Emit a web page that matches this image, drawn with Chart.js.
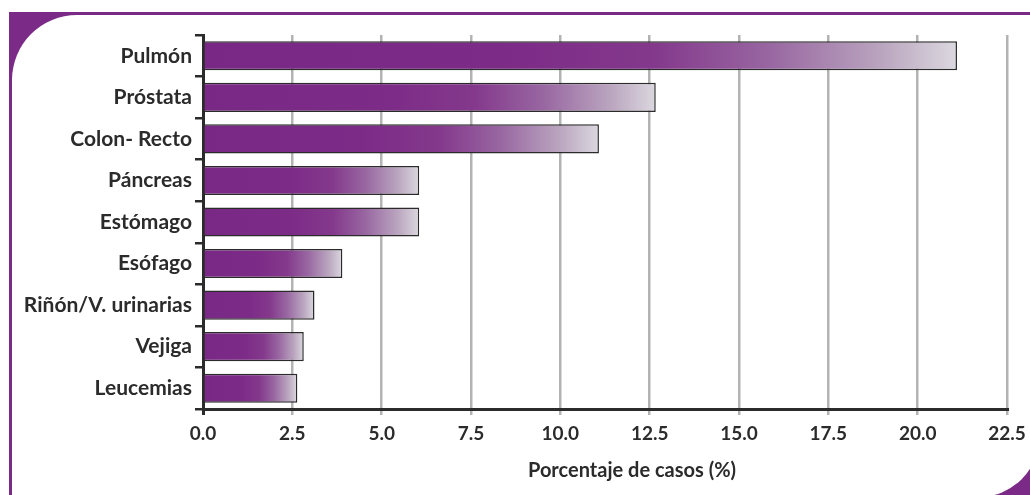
<!DOCTYPE html>
<html lang="es">
<head>
  <meta charset="UTF-8">
  <title>Porcentaje de casos</title>
  <script src="https://cdn.jsdelivr.net/npm/chart.js@4"></script>
  <style>
    html, body { margin: 0; padding: 0; background: #fff; }
    #marco { position: absolute; left: 9px; top: 12px; width: 1021px; height: 483px; background: #7b2a87; overflow: hidden; }
    #panel { position: absolute; left: 3px; top: 3px; width: 1027px; height: 482px; background: #fff;
             border-top-left-radius: 65px; border-bottom-right-radius: 60px; }
    #grafico { position: absolute; left: 0; top: 0; }
    #titulo-x { position: absolute; left: 0; width: 1264px; top: 457px; text-align: center;
                font: bold 20px Lato, sans-serif; color: #2b2b2b; }
  </style>
</head>
<body>
  <div id="marco"><div id="panel"></div></div>
  <canvas id="grafico" width="1030" height="495"></canvas>
  <div id="titulo-x">Porcentaje de casos (%)</div>

  <script>
    // Datos
    const categorias = ['Pulmón', 'Próstata', 'Colon- Recto', 'Páncreas', 'Estómago',
                        'Esófago', 'Riñón/V. urinarias', 'Vejiga', 'Leucemias'];
    const porcentajes = [21.1, 12.67, 11.08, 6.05, 6.05, 3.9, 3.12, 2.82, 2.64];
    const marcasX = [0, 2.5, 5, 7.5, 10, 12.5, 15, 17.5, 20, 22.5];

    const oscuro = '#2b2b2b';

    // degradado por barra: morado a la izquierda, gris claro al final
    function degradado(c) {
      const chart = c.chart;
      if (!chart.chartArea || c.raw == null) return '#7b2a87';
      const x = chart.scales.x;
      const x0 = x.getPixelForValue(0);
      const x1 = x.getPixelForValue(c.raw);
      const g = chart.ctx.createLinearGradient(x0, 0, x1, 0);
      g.addColorStop(0, '#7a2886');
      g.addColorStop(0.4, '#7c2b87');
      g.addColorStop(0.6, '#84398c');
      g.addColorStop(0.75, '#9866a1');
      g.addColorStop(0.9, '#baa5bf');
      g.addColorStop(1, '#dbd8df');
      return g;
    }

    const ctx = document.getElementById('grafico').getContext('2d');
    new Chart(ctx, {
      type: 'bar',
      data: {
        labels: categorias,
        datasets: [{
          data: porcentajes,
          backgroundColor: degradado,
          borderColor: oscuro,
          borderWidth: 1.5,
          borderSkipped: 'start',
          barPercentage: 0.7,
          categoryPercentage: 1
        }]
      },
      options: {
        indexAxis: 'y',
        responsive: false,
        animation: false,
        devicePixelRatio: 1,
        layout: { padding: { top: 35, right: 23, bottom: 0, left: 0 } },
        plugins: { legend: { display: false }, tooltip: { enabled: false } },
        scales: {
          x: {
            min: 0,
            max: 22.5,
            afterBuildTicks: (s) => { s.ticks = marcasX.map(v => ({ value: v })); },
            afterFit: (s) => { s.height = 86; s.paddingLeft = 0; s.paddingRight = 0; },
            border: { color: oscuro, width: 3 },
            grid: {
              color: (c) => c.index === 0 ? oscuro : '#b3b3b3',
              lineWidth: (c) => c.index === 0 ? 3 : 2.5,
              tickLength: 6
            },
            ticks: {
              color: oscuro,
              padding: 7,
              font: { family: 'Lato', size: 19, weight: 'bold' },
              callback: (v) => Number(v).toFixed(1)
            }
          },
          y: {
            afterFit: (s) => { s.width = 203; },
            border: { color: oscuro, width: 3 },
            grid: {
              drawOnChartArea: false,
              color: oscuro,
              lineWidth: 2.5,
              tickLength: 8
            },
            ticks: {
              color: oscuro,
              padding: 3,
              font: { family: 'Lato', size: 21, weight: 'bold' }
            }
          }
        }
      }
    });
  </script>
</body>
</html>
